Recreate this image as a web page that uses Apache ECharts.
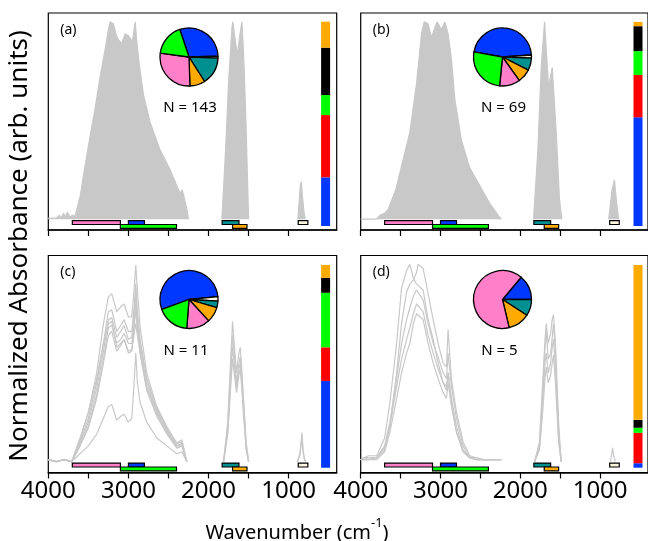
<!DOCTYPE html>
<html>
<head>
<meta charset="utf-8">
<script src="https://cdn.jsdelivr.net/npm/echarts@6/dist/echarts.min.js"></script>
<style>
  html, body { margin: 0; padding: 0; background: #fff; }
  #chart { width: 648px; height: 541px; }
</style>
</head>
<body>
<div id="chart"></div>
<script>
// ---- band ranges (cm-1) drawn under each spectrum panel
const bandStart = [3700, 3000, 3100, 1830, 1700, 880];
const bandEnd = [3100, 2800, 2400, 1620, 1520, 760];
const bandRow = [0, 0, 1, 0, 1, 0];

// ---- pie fractions (%), order: blue, cream, teal, orange, pink, green
const pieA = [29.6, 1.1, 15.4, 8.5, 27.7, 17.7];
const pieB = [46.0, 1.7, 6.9, 7.6, 11.5, 26.3];
const pieC = [54.1, 2.4, 3.7, 8.6, 13.1, 18.2];
const pieD = [13.9, 0, 9.1, 12.2, 64.8, 0];
const pieStart = [108.4, 169.6, 200.1, 50];

// ---- stacked colour bar fractions, bottom to top: blue, red, green, black, orange
const barA = [0.238, 0.305, 0.098, 0.232, 0.127];
const barB = [0.532, 0.207, 0.117, 0.122, 0.021];
const barC = [0.428, 0.166, 0.269, 0.074, 0.063];
const barD = [0.022, 0.150, 0.025, 0.039, 0.765];

const counts = ['N = 143', 'N = 69', 'N = 11', 'N = 5'];
const xTicks = [4000, 3500, 3000, 2500, 2000, 1500, 1000];
const xLabels = [4000, 3000, 2000, 1000];

// ---- spectra (a): dense, drawn as envelopes
const aOHWn = [4000,3900,3860,3840,3810,3790,3760,3730,3700,3666,3600,3562,3479,3416,3354,3291,3250,3229,3187,3150,3125,3083,3041,3000,2950,2915,2900,2870,2812,2729,2604,2479,2396,2354,2330,2310,2271,2250];
const aOHAbs = [0.005,0.005,0.02,0.005,0.03,0.01,0.035,0.01,0.02,0.015,0.12,0.22,0.42,0.56,0.72,0.86,0.96,1.0,0.99,0.93,0.91,0.89,0.94,0.93,0.9,1.0,0.92,0.8,0.63,0.49,0.35,0.25,0.17,0.13,0.15,0.12,0.05,0];
const aCOWn = [1833,1787,1750,1708,1696,1675,1640,1610,1583,1570,1554,1529,1510,1500];
const aCOAbs = [0,0.35,0.69,0.97,1.0,0.93,0.83,0.93,1.0,0.9,0.75,0.44,0.15,0];
const a880Wn = [885,870,855,841,828,810,795];
const a880Abs = [0,0.08,0.17,0.19,0.12,0.04,0];

// ---- spectra (b)
const bOHWn = [4000,3800,3759,3700,3655,3560,3488,3384,3300,3238,3205,3155,3113,3071,3042,2988,2946,2905,2863,2821,2738,2634,2509,2384,2280,2238];
const bOHAbs = [0,0,0.02,0.03,0.05,0.15,0.27,0.44,0.69,0.94,1.0,0.99,0.92,0.97,1.0,0.96,1.0,0.94,0.81,0.61,0.4,0.26,0.17,0.08,0.02,0];
const bCOWn = [1834,1780,1738,1696,1675,1646,1600,1550,1509,1480];
const bCOAbs = [0,0.35,0.77,1.0,0.86,0.67,0.77,0.44,0.1,0];
const b880Wn = [892,850,821,793,768];
const b880Abs = [0,0.15,0.2,0.08,0];

// ---- spectra (c)
const cOHWn = [4000,3900,3800,3708,3604,3500,3396,3312,3250,3208,3146,3096,3054,3000,2958,2929,2908,2888,2854,2771,2646,2521,2396,2333,2271];
const cOH1 = [0.01,0,0.01,0,0.11,0.25,0.45,0.70,0.835,0.852,0.76,0.785,0.80,0.734,0.734,0.869,0.995,0.869,0.683,0.448,0.279,0.178,0.094,0.111,0];
const cOH2 = [0.01,0,0.01,0,0.1,0.22,0.4,0.6,0.76,0.77,0.66,0.69,0.72,0.66,0.66,0.78,0.9,0.76,0.62,0.42,0.27,0.17,0.09,0.1,0];
const cOH3 = [0.01,0,0.01,0,0.09,0.2,0.37,0.56,0.72,0.73,0.63,0.66,0.69,0.62,0.63,0.75,0.85,0.72,0.6,0.4,0.26,0.16,0.08,0.09,0];
const cOH4 = [0.01,0,0.01,0,0.08,0.18,0.34,0.52,0.68,0.69,0.6,0.62,0.65,0.6,0.6,0.7,0.8,0.7,0.58,0.38,0.25,0.15,0.07,0.08,0];
const cOH5 = [0.01,0,0.01,0,0.12,0.25,0.42,0.6,0.7,0.71,0.58,0.6,0.62,0.55,0.56,0.65,0.7,0.64,0.55,0.37,0.24,0.15,0.08,0.09,0];
const cOH6 = [0.01,0,0.01,0,0.04,0.08,0.14,0.22,0.28,0.29,0.21,0.23,0.24,0.2,0.22,0.4,0.55,0.4,0.3,0.2,0.12,0.08,0.04,0.05,0];
const cOH7 = [0.01,0,0.01,0,0.08,0.17,0.32,0.5,0.64,0.66,0.56,0.59,0.62,0.56,0.57,0.68,0.78,0.66,0.55,0.36,0.23,0.14,0.07,0.08,0];
const cCOWn = [1812,1760,1720,1700,1680,1650,1620,1604,1590,1560,1530,1500];
const cCO1 = [0,0.2,0.55,0.71,0.6,0.45,0.55,0.58,0.5,0.3,0.1,0];
const cCO2 = [0,0.18,0.5,0.64,0.55,0.4,0.5,0.53,0.46,0.28,0.08,0];
const cCO3 = [0,0.15,0.45,0.58,0.5,0.38,0.47,0.5,0.43,0.25,0.07,0];
const cCO4 = [0,0.14,0.4,0.52,0.45,0.35,0.44,0.47,0.4,0.22,0.06,0];
const c880Wn = [890,860,845,833,820,805,790];
const c8801 = [0,0.04,0.1,0.148,0.06,0.02,0];
const c8802 = [0,0.03,0.08,0.12,0.05,0.015,0];

// ---- spectra (d)
const dOHWn = [4000,3967,3900,3800,3700,3634,3550,3488,3425,3384,3340,3300,3280,3218,3155,3092,3030,2967,2925,2905,2863,2800,2717,2634,2550,2467,2238];
const dOH1 = [0.01,0.02,0.03,0.03,0.12,0.3,0.6,0.88,0.97,1.0,0.93,0.9,0.91,0.87,0.72,0.62,0.5,0.4,0.38,0.45,0.3,0.15,0.05,0.02,0.02,0.01,0.01];
const dOH2 = [0.01,0.02,0.02,0.02,0.06,0.18,0.45,0.7,0.86,0.9,0.92,0.96,1.0,0.98,0.85,0.72,0.6,0.5,0.48,0.67,0.42,0.25,0.1,0.03,0.02,0.01,0.01];
const dOH3 = [0.01,0.01,0.02,0.02,0.08,0.2,0.42,0.6,0.72,0.78,0.84,0.87,0.88,0.82,0.7,0.6,0.53,0.45,0.42,0.55,0.38,0.22,0.08,0.02,0.01,0.01,0.01];
const dOH4 = [0.01,0.01,0.01,0.02,0.07,0.18,0.38,0.52,0.62,0.68,0.75,0.8,0.8,0.76,0.64,0.55,0.47,0.4,0.36,0.45,0.32,0.18,0.06,0.02,0.01,0.01,0.01];
const dOH5 = [0.01,0.01,0.01,0.01,0.05,0.15,0.32,0.45,0.55,0.6,0.7,0.75,0.76,0.72,0.6,0.5,0.42,0.35,0.32,0.4,0.28,0.15,0.05,0.02,0.01,0.01,0.01];
const dCOWn = [1821,1760,1720,1690,1675,1650,1620,1600,1584,1560,1520,1488];
const dCO1 = [0,0.1,0.4,0.62,0.7,0.6,0.65,0.72,0.745,0.6,0.2,0];
const dCO2 = [0,0.08,0.35,0.58,0.66,0.52,0.55,0.63,0.7,0.55,0.15,0];
const dCO3 = [0,0.07,0.3,0.5,0.55,0.45,0.5,0.58,0.62,0.48,0.12,0];
const dCO4 = [0,0.06,0.25,0.42,0.48,0.4,0.44,0.5,0.54,0.4,0.1,0];
const d880Wn = [870,850,843,835,810];
const d880Abs = [0,0.05,0.07,0.04,0];

const GRAY = '#c8c8c8';
const FONT = "'Noto Sans', sans-serif";
const bandColors = ['#ff80c8', '#0038ff', '#00ff00', '#009090', '#ffaa00', '#fcf8e0'];
const pieColors = ['#0038ff', '#fcf8e0', '#009090', '#ffaa00', '#ff80c8', '#00ff00'];
const barColors = ['#0038ff', '#ff0000', '#00ff00', '#000000', '#ffaa00'];

const panels = [
  { left: 48.3, top: 13, fill: true, label: '(a)', pie: pieA, bar: barA,
    spectra: [[aOHWn, [aOHAbs]], [aCOWn, [aCOAbs]], [a880Wn, [a880Abs]]] },
  { left: 360.7, top: 13, fill: true, label: '(b)', pie: pieB, bar: barB,
    spectra: [[bOHWn, [bOHAbs]], [bCOWn, [bCOAbs]], [b880Wn, [b880Abs]]] },
  { left: 48.3, top: 255.5, fill: false, label: '(c)', pie: pieC, bar: barC,
    spectra: [[cOHWn, [cOH1, cOH2, cOH3, cOH4, cOH5, cOH6, cOH7]], [cCOWn, [cCO1, cCO2, cCO3, cCO4]], [c880Wn, [c8801, c8802]]] },
  { left: 360.7, top: 255.5, fill: false, label: '(d)', pie: pieD, bar: barD,
    spectra: [[dOHWn, [dOH1, dOH2, dOH3, dOH4, dOH5]], [dCOWn, [dCO1, dCO2, dCO3, dCO4]], [d880Wn, [d880Abs]]] }
];

const PW = 288.4, PH = 217;
const grid = [], xAxis = [], yAxis = [], series = [], graphic = [];

panels.forEach((p, i) => {
  const bottomRow = i >= 2;
  grid.push({ left: p.left, top: p.top, width: PW, height: PH, show: true,
    borderColor: '#000', borderWidth: 1.2, backgroundColor: 'transparent' });
  xAxis.push({
    gridIndex: i, type: 'value', min: 400, max: 4000, inverse: true,
    axisLine: { show: true, onZero: false, lineStyle: { color: '#000', width: 1.6 } },
    axisTick: { show: true, inside: false, length: 6, customValues: xTicks,
      lineStyle: { color: '#000', width: 1.2 } },
    axisLabel: { show: bottomRow, customValues: xLabels, fontSize: 24, color: '#000',
      fontFamily: FONT, margin: 7, formatter: v => String(v) },
    splitLine: { show: false }
  });
  yAxis.push({ gridIndex: i, type: 'value', min: -0.055, max: 1.045, show: false });

  // spectra
  p.spectra.forEach(([wn, lines]) => {
    lines.forEach(ys => {
      series.push({
        type: 'line', xAxisIndex: i, yAxisIndex: i, silent: true,
        symbol: 'none', animation: false, z: 2,
        data: wn.map((w, k) => [w, ys[k]]),
        lineStyle: { color: GRAY, width: 1.2 },
        areaStyle: p.fill ? { color: GRAY, opacity: 1 } : null
      });
    });
  });

  // band bars
  series.push({
    type: 'custom', xAxisIndex: i, yAxisIndex: i, silent: true, animation: false, z: 4,
    data: bandStart.map((s, k) => [s, bandEnd[k], bandRow[k]]),
    encode: { x: [0, 1], y: 2 },
    renderItem: function (params, api) {
      const row = api.value(2);
      const yTop = row === 0 ? -0.007 : -0.027;
      const yBot = row === 0 ? -0.027 : -0.047;
      const p0 = api.coord([api.value(0), yTop]);
      const p1 = api.coord([api.value(1), yBot]);
      return {
        type: 'rect',
        shape: { x: Math.min(p0[0], p1[0]), y: p0[1], width: Math.abs(p1[0] - p0[0]), height: p1[1] - p0[1] },
        style: { fill: bandColors[params.dataIndex], stroke: '#000', lineWidth: 1.2 }
      };
    }
  });

  // pie inset
  const cx = p.left + (i % 2 === 0 ? 140.7 : 141.8);
  const cy = p.top + 44;
  series.push({
    type: 'pie', center: [cx, cy], radius: 29, startAngle: pieStart[i],
    clockwise: true, silent: true, animation: false, z: 5,
    label: { show: false }, labelLine: { show: false },
    itemStyle: { borderColor: '#000', borderWidth: 1.3 },
    data: p.pie.map((v, k) => ({ value: v, itemStyle: { color: pieColors[k] } })).filter(d => d.value > 0)
  });

  graphic.push({ type: 'text', x: p.left + 12, y: p.top + 17,
    style: { text: p.label, fontSize: 14, fontFamily: FONT, fill: '#000', align: 'left', verticalAlign: 'middle' } });
  graphic.push({ type: 'text', x: cx + (i < 2 ? 1 : -3), y: p.top + 95,
    style: { text: counts[i], fontSize: 15, fontFamily: FONT, fill: '#000', align: 'center', verticalAlign: 'middle' } });
});

// colour bars: own grids
panels.forEach((p, i) => {
  const g = 4 + i;
  grid.push({ left: p.left + 272.8, top: p.top + (i < 2 ? 8.7 : 9.5), width: 9, height: i < 2 ? 204.3 : 202.7 });
  xAxis.push({ gridIndex: g, type: 'category', data: [''], show: false });
  yAxis.push({ gridIndex: g, type: 'value', min: 0, max: 1, show: false });
  p.bar.forEach((v, k) => {
    series.push({ type: 'bar', xAxisIndex: g, yAxisIndex: g, stack: 'bar' + i, barWidth: '100%',
      silent: true, animation: false, data: [v], itemStyle: { color: barColors[k] } });
  });
});

graphic.push({ type: 'text', x: 20, y: 246, rotation: Math.PI / 2,
  style: { text: 'Normalized Absorbance (arb. units)', fontSize: 26, fontFamily: FONT, fill: '#000',
    align: 'center', verticalAlign: 'middle' } });
graphic.push({ type: 'text', x: 297, y: 530,
  style: { text: '{b|Wavenumber (cm}{s|-1}{b|)}', fontFamily: FONT, fill: '#000',
    align: 'center', verticalAlign: 'middle',
    rich: { b: { fontSize: 20, fontFamily: FONT, lineHeight: 26, verticalAlign: 'bottom' },
            s: { fontSize: 13, fontFamily: FONT, lineHeight: 26, verticalAlign: 'top' } } } });

const chart = echarts.init(document.getElementById('chart'));
chart.setOption({ animation: false, grid, xAxis, yAxis, series, graphic });
</script>
</body>
</html>
